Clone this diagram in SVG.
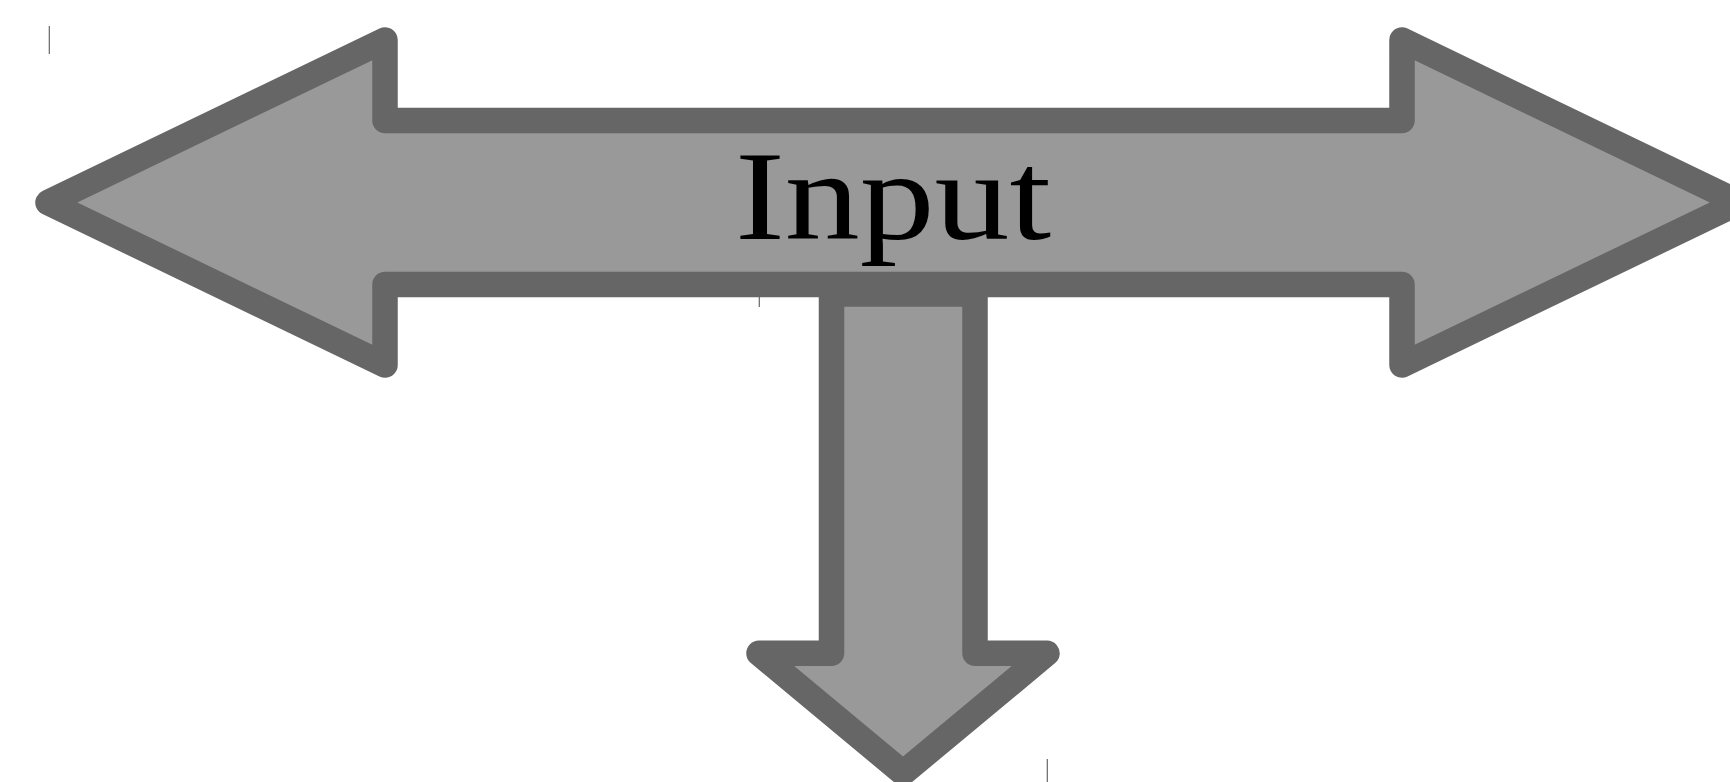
<svg xmlns="http://www.w3.org/2000/svg" width="1730" height="782" viewBox="0 0 1730 782">
  <style>
    .arrow { fill: #999999; stroke: #666666; stroke-width: 25.5; stroke-linejoin: round; }
    .tick { stroke: #666666; stroke-width: 1.2; fill: none; }
    .label { font-family: "Liberation Serif", "Times New Roman", serif; font-size: 128px; fill: #000000; }
  </style>
  <rect width="1730" height="782" fill="#ffffff"/>
  <g id="down-arrow">
    <path class="arrow" d="M 831.5,294 L 831.5,653.3 L 759,653.3 L 903,773 L 1047,653.3 L 975,653.3 L 975,294 Z"/>
  </g>
  <g id="input-arrow">
    <path class="arrow" d="M 48,202.5 L 385,40 L 385,120.5 L 1402,120.5 L 1402,40 L 1739,202.5 L 1402,365 L 1402,284.5 L 385,284.5 L 385,365 Z"/>
    <text class="label" x="893" y="239" text-anchor="middle" textLength="316" lengthAdjust="spacingAndGlyphs">Input</text>
  </g>
  <g id="connectors">
    <line class="tick" x1="49.3" y1="26" x2="49.3" y2="54"/>
    <line class="tick" x1="759.3" y1="297" x2="759.3" y2="307"/>
    <line class="tick" x1="1047.3" y1="759" x2="1047.3" y2="782"/>
  </g>
</svg>
